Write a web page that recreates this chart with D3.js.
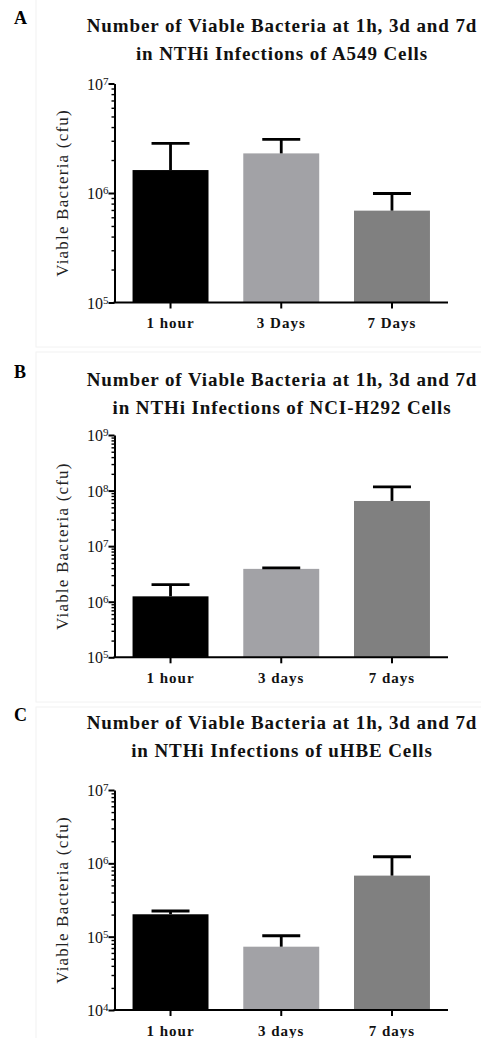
<!DOCTYPE html>
<html>
<head>
<meta charset="utf-8">
<script src="https://cdn.jsdelivr.net/npm/d3@7"></script>
<style>
	body { margin: 0; background: #ffffff; }
	svg { display: block; }
</style>
</head>
<body>
<script>
// values (cfu, log scale)
var panelLetters = ["A", "B", "C"];
var cellLines = ["A549", "NCI-H292", "uHBE"];

var categoriesA = ["1 hour", "3 Days", "7 Days"];
var categoriesB = ["1 hour", "3 days", "7 days"];
var categoriesC = ["1 hour", "3 days", "7 days"];

var meansA = [1.62e6, 2.30e6, 6.9e5];
var errorsA = [1.22e6, 0.79e6, 3.0e5];
var meansB = [1.25e6, 3.9e6, 6.5e7];
var errorsB = [0.78e6, 0.15e6, 5.2e7];
var meansC = [2.02e5, 7.3e4, 6.8e5];
var errorsC = [0.22e5, 0.30e5, 5.5e5];

// y tick labels: powers of ten
var exponentsA = [5, 6, 7];
var exponentsB = [5, 6, 7, 8, 9];
var exponentsC = [4, 5, 6, 7];

var barColors = ["#000000", "#a2a2a6", "#808080"];

var FONT = "'Liberation Serif', 'Times New Roman', serif";

function Panel(svg, letter, cellLine, categories, means, errors, exponents) {
	this.svg = svg;
	this.letter = letter;
	this.cellLine = cellLine;
	this.categories = categories;
	this.means = means;
	this.errors = errors;
	this.exponents = exponents;
	this.g = undefined;
}

Panel.prototype.LEFT = 114.5;
Panel.prototype.RIGHT = 448;

Panel.prototype.init = function(top, axisTop, axisBottom, boxTop, boxBottom) {
	this.top = top;
	this.axisTop = axisTop;
	this.axisBottom = axisBottom;
	this.boxTop = boxTop;
	this.boxBottom = boxBottom;

	this.g = this.svg.append("g");
	this.setupScales();
	this.addBox();
	this.addTitle();
	this.addBars();
	this.addAxes();
};

Panel.prototype.setupScales = function() {
	this.x = d3.scaleBand()
		.domain(this.categories)
		.range([this.LEFT, this.RIGHT])
		.paddingInner(0.314)
		.paddingOuter(0.163);

	var lo = Math.pow(10, d3.min(this.exponents));
	var hi = Math.pow(10, d3.max(this.exponents));
	this.y = d3.scaleLog()
		.domain([lo, hi])
		.range([this.axisBottom, this.axisTop]);
};

Panel.prototype.addBox = function() {
	this.g.append("rect")
		.attr("x", 36)
		.attr("y", this.boxTop)
		.attr("width", 460)
		.attr("height", this.boxBottom - this.boxTop)
			.style("fill", "none")
			.style("stroke", "#f2f2f2")
			.style("stroke-width", 1);
};

Panel.prototype.addTitle = function() {
	this.g.append("text")
		.attr("x", 14)
		.attr("y", this.top - 8)
			.style("font-family", FONT)
			.style("font-size", "18px")
			.style("font-weight", "bold")
			.style("fill", "#000")
		.text(this.letter);

	var lines = ["Number of Viable Bacteria at 1h, 3d and 7d",
		"in NTHi Infections of " + this.cellLine + " Cells"];
	var self = this;
	lines.forEach(function(line, i) {
		self.g.append("text")
			.attr("x", 282)
			.attr("y", self.top + i * 28)
			.attr("text-anchor", "middle")
				.style("font-family", FONT)
				.style("font-size", "19px")
				.style("font-weight", "bold")
				.style("letter-spacing", "0.9px")
				.style("fill", "#111")
			.text(line);
	});
};

Panel.prototype.addBars = function() {
	var x = this.x, y = this.y;
	var bw = x.bandwidth();
	var data = this.categories.map(function(c, i) {
		return {cat: c, mean: this.means[i], err: this.errors[i], color: barColors[i]};
	}, this);

	this.g.selectAll(".bar")
		.data(data)
		.enter().append("rect")
		.attr("class", "bar")
		.attr("x", function(d) { return x(d.cat); })
		.attr("y", function(d) { return y(d.mean); })
		.attr("width", bw)
		.attr("height", function(d) { return y.range()[0] - y(d.mean); })
			.style("fill", function(d) { return d.color; });

	// upper error bars only
	var err = this.g.selectAll(".err")
		.data(data)
		.enter().append("g")
		.attr("class", "err")
			.style("stroke", "#000")
			.style("stroke-width", 2.8);

	err.append("line")
		.attr("x1", function(d) { return x(d.cat) + bw / 2; })
		.attr("x2", function(d) { return x(d.cat) + bw / 2; })
		.attr("y1", function(d) { return y(d.mean); })
		.attr("y2", function(d) { return y(d.mean + d.err); });

	err.append("line")
		.attr("x1", function(d) { return x(d.cat) + bw / 4; })
		.attr("x2", function(d) { return x(d.cat) + bw * 3 / 4; })
		.attr("y1", function(d) { return y(d.mean + d.err); })
		.attr("y2", function(d) { return y(d.mean + d.err); });
};

Panel.prototype.addAxes = function() {
	var y = this.y;
	var exps = this.exponents;
	var minor = [];
	for (var e = d3.min(exps); e < d3.max(exps); e++) {
		for (var k = 2; k <= 9; k++) minor.push(k * Math.pow(10, e));
	}
	var majors = exps.map(function(e) { return Math.pow(10, e); });

	// minor ticks
	var yMinor = this.g.append("g")
		.attr("transform", "translate(" + this.LEFT + ",0)")
		.call(d3.axisLeft(y).tickValues(minor).tickSize(3).tickFormat(""));
	yMinor.select(".domain").remove();
	yMinor.selectAll("line").style("stroke", "#000").style("stroke-width", 1.4);

	var yAxis = this.g.append("g")
		.attr("transform", "translate(" + this.LEFT + ",0)")
		.call(d3.axisLeft(y).tickValues(majors).tickSize(6).tickSizeOuter(0).tickFormat(""));
	yAxis.select(".domain").style("stroke", "#000").style("stroke-width", 2);
	yAxis.selectAll(".tick line").style("stroke", "#000").style("stroke-width", 2);

	// tick labels as 10 with a superscript exponent
	var labels = yAxis.selectAll(".tick").append("text")
		.attr("x", -6)
		.attr("dy", "0.35em")
		.attr("text-anchor", "end")
			.style("font-family", FONT)
			.style("font-size", "16px")
			.style("fill", "#111");
	labels.append("tspan").text("10");
	labels.append("tspan")
		.attr("dy", "-0.45em")
			.style("font-size", "11px")
		.text(function(d) { return String(Math.round(Math.log10(d))); });

	var xAxis = this.g.append("g")
		.attr("transform", "translate(0," + this.axisBottom + ")")
		.call(d3.axisBottom(this.x).tickSize(6).tickSizeOuter(0));
	xAxis.select(".domain")
		.attr("d", "M" + (this.LEFT - 1) + ",0H" + this.RIGHT)
			.style("stroke", "#000")
			.style("stroke-width", 2);
	xAxis.selectAll(".tick line").style("stroke", "#000").style("stroke-width", 2);
	xAxis.selectAll(".tick text")
		.attr("y", 12)
		.attr("dy", "0.9em")
			.style("font-family", FONT)
			.style("font-size", "15px")
			.style("font-weight", "bold")
			.style("letter-spacing", "1px")
			.style("fill", "#111");

	this.g.append("text")
		.attr("transform", "translate(68," + (this.axisTop + this.axisBottom) / 2 + ") rotate(-90)")
		.attr("text-anchor", "middle")
			.style("font-family", FONT)
			.style("font-size", "17px")
			.style("letter-spacing", "1.2px")
			.style("fill", "#222")
		.text("Viable Bacteria (cfu)");
};

var svg = d3.select("body").append("svg")
	.attr("width", 481)
	.attr("height", 1038);

var panelA = new Panel(svg, panelLetters[0], cellLines[0], categoriesA, meansA, errorsA, exponentsA);
panelA.init(32, 83.5, 302.5, -1, 347);

var panelB = new Panel(svg, panelLetters[1], cellLines[1], categoriesB, meansB, errorsB, exponentsB);
panelB.init(386, 435, 657.3, 352, 702);

var panelC = new Panel(svg, panelLetters[2], cellLines[2], categoriesC, meansC, errorsC, exponentsC);
panelC.init(729, 790, 1010, 707, 1040);
</script>
</body>
</html>
